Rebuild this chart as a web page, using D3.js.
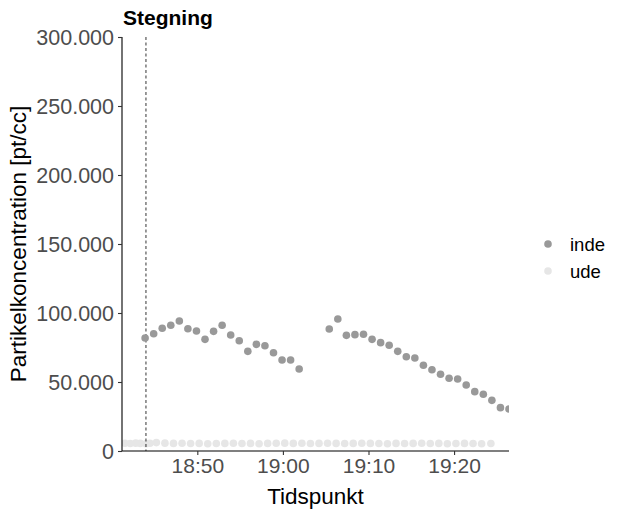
<!DOCTYPE html>
<html>
<head>
<meta charset="utf-8">
<script src="https://cdn.jsdelivr.net/npm/d3@7"></script>
<style>
  body { margin: 0; background: #fff; }
  svg { font-family: "Liberation Sans", Arial, sans-serif; }
</style>
</head>
<body>
<div id="chart"></div>
<script>
// data (times on 2000-01-01, UTC)
var indeTimes = [
  "18:43:54","18:44:54","18:45:54","18:46:54","18:47:54","18:48:54","18:49:54",
  "18:50:54","18:51:54","18:52:54","18:53:54","18:54:54","18:55:54","18:56:54",
  "18:57:54","18:58:54","18:59:54","19:00:54","19:01:54",
  "19:05:25","19:06:25","19:07:25","19:08:25","19:09:25","19:10:25","19:11:25",
  "19:12:25","19:13:25","19:14:25","19:15:25","19:16:25","19:17:25","19:18:25",
  "19:19:25","19:20:25","19:21:25","19:22:25","19:23:25","19:24:25","19:25:25",
  "19:26:25"
];
var indeValues = [
  81900, 85000, 88900, 91100, 94200, 88600, 87000, 80900, 86700, 91100,
  84100, 79900, 72200, 77300, 76300, 71200, 65900, 65900, 59400,
  88400, 95700, 83800, 84300, 84600, 80900, 78500, 76600, 72200, 68300,
  67400, 62100, 58900, 55600, 52700, 52200, 47800, 43000, 41100, 36700,
  31400, 30400
];
var udeTimes = [
  "18:41:33","18:42:10","18:42:48","18:43:20","18:44:00","18:44:28",
  "18:45:13","18:46:13","18:47:13","18:48:13","18:49:13","18:50:13","18:51:13",
  "18:52:13","18:53:13","18:54:13","18:55:13","18:56:13","18:57:13","18:58:13",
  "18:59:13","19:00:13","19:01:13","19:02:13","19:03:13","19:04:13","19:05:13",
  "19:06:13","19:07:13","19:08:13","19:09:13","19:10:13","19:11:13","19:12:13",
  "19:13:13","19:14:13","19:15:13","19:16:13","19:17:13","19:18:13","19:19:13",
  "19:20:13","19:21:13","19:22:13","19:23:13","19:24:18"
];
var udeValues = [
  5600, 5400, 5700, 5500, 5300, 5600, 6100, 5700, 5500, 5600, 5400, 5500, 5300,
  5400, 5500, 5600, 5400, 5500, 5300, 5500, 5600, 5700, 5500, 5600, 5400, 5500,
  5600, 5500, 5400, 5500, 5600, 5500, 5400, 5300, 5500, 5400, 5500, 5600, 5400,
  5500, 5300, 5400, 5500, 5400, 5300, 5400
];
var xDomain = ["18:41:12", "19:26:25"];
var xTicks = ["18:50:00", "19:00:00", "19:10:00", "19:20:00"];
var yTicks = [0, 50000, 100000, 150000, 200000, 250000, 300000];
var markerTime = "18:44:00";
var seriesNames = ["inde", "ude"];
var seriesColors = ["#999999", "#e6e6e6"];

var W = 622, H = 513;
var pLeft = 122, pRight = 509, pTop = 37, pBottom = 451;

var parseT = function(s){ return d3.utcParse("%Y-%m-%d %H:%M:%S")("2000-01-01 " + s); };

var locale = d3.formatLocale({decimal: ",", thousands: ".", grouping: [3], currency: ["", ""]});
var yFmt = locale.format(",");

var x = d3.scaleUtc()
  .domain(xDomain.map(parseT))
  .range([pLeft, pRight]);
var y = d3.scaleLinear()
  .domain([0, 300000])
  .range([pBottom, pTop]);

var svg = d3.select("#chart").append("svg")
  .attr("width", W)
  .attr("height", H);

svg.append("defs").append("clipPath")
  .attr("id", "panel")
  .append("rect")
  .attr("x", pLeft).attr("y", pTop - 10)
  .attr("width", pRight - pLeft).attr("height", pBottom - pTop + 10);

// ude points (drawn first)
var pts = svg.append("g").attr("clip-path", "url(#panel)");
pts.selectAll("circle.ude")
  .data(udeTimes.map(function(t, i){ return {t: parseT(t), v: udeValues[i]}; }))
  .enter().append("circle")
  .attr("class", "ude")
  .attr("cx", function(d){ return x(d.t); })
  .attr("cy", function(d){ return y(d.v); })
  .attr("r", 3.8)
  .style("fill", seriesColors[1]);

// dashed marker
svg.append("line")
  .attr("x1", x(parseT(markerTime))).attr("x2", x(parseT(markerTime)))
  .attr("y1", pTop).attr("y2", pBottom)
  .style("stroke", "#000")
  .style("stroke-width", 0.8)
  .style("stroke-dasharray", "3,2.5");

var pts2 = svg.append("g").attr("clip-path", "url(#panel)");
pts2.selectAll("circle.inde")
  .data(indeTimes.map(function(t, i){ return {t: parseT(t), v: indeValues[i]}; }))
  .enter().append("circle")
  .attr("class", "inde")
  .attr("cx", function(d){ return x(d.t); })
  .attr("cy", function(d){ return y(d.v); })
  .attr("r", 3.8)
  .style("fill", seriesColors[0]);

// axes
var yAxis = svg.append("g")
  .attr("transform", "translate(" + pLeft + ",0)")
  .call(d3.axisLeft(y).tickValues(yTicks).tickFormat(yFmt).tickSize(4).tickPadding(4));
var xAxis = svg.append("g")
  .attr("transform", "translate(0," + pBottom + ")")
  .call(d3.axisBottom(x).tickValues(xTicks.map(parseT)).tickFormat(d3.utcFormat("%H:%M")).tickSize(4).tickPadding(3));

[yAxis, xAxis].forEach(function(a){
  a.attr("font-size", 21.5).attr("font-family", "'Liberation Sans', Arial, sans-serif");
  a.select(".domain").style("stroke", "#000").style("stroke-width", 1.1);
  a.selectAll(".tick line").style("stroke", "#333").style("stroke-width", 1.1);
  a.selectAll(".tick text").style("fill", "#4d4d4d");
});
xAxis.attr("font-size", 21);
yAxis.selectAll(".tick text").attr("dy", "0.35em");
yAxis.select(".domain").attr("d", "M0," + pBottom + "V" + pTop);
xAxis.select(".domain").attr("d", "M" + pLeft + ",0H" + pRight);

// titles
svg.append("text")
  .attr("x", pLeft + 1).attr("y", 25)
  .style("font-size", "21px").style("font-weight", "bold")
  .text("Stegning");

svg.append("text")
  .attr("x", (pLeft + pRight) / 2).attr("y", 504)
  .attr("text-anchor", "middle")
  .style("font-size", "22.5px")
  .text("Tidspunkt");

svg.append("text")
  .attr("transform", "translate(26," + ((pTop + pBottom) / 2) + ") rotate(-90)")
  .attr("text-anchor", "middle")
  .style("font-size", "22.5px")
  .text("Partikelkoncentration [pt/cc]");

// legend
var legend = svg.append("g").attr("transform", "translate(548,244)");
seriesNames.forEach(function(n, i){
  var g = legend.append("g").attr("transform", "translate(0," + (i * 27) + ")");
  g.append("circle").attr("r", 3.8).style("fill", seriesColors[i]);
  g.append("text").attr("x", 22).attr("y", 6.5)
    .style("font-size", "18.5px")
    .text(n);
});
</script>
</body>
</html>
